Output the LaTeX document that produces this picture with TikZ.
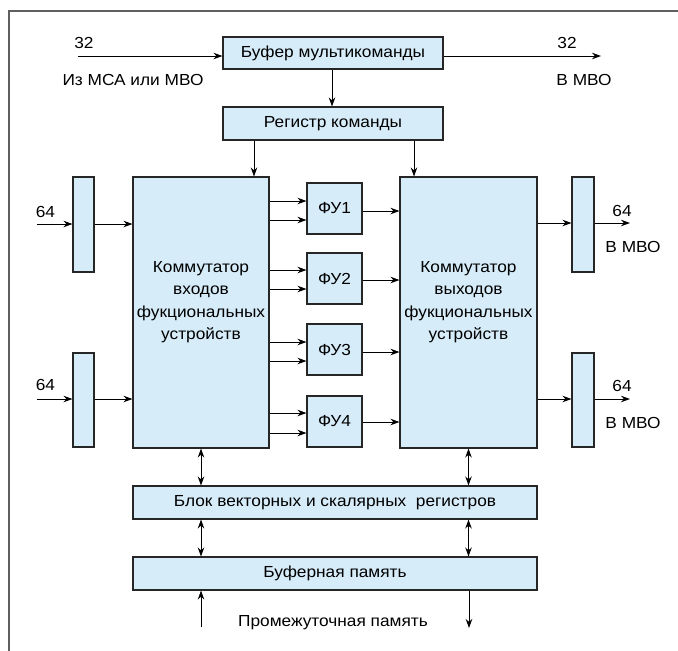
\documentclass[tikz,border=0pt]{standalone}
\usepackage{fontspec}
\setmainfont{Liberation Sans}[FakeStretch=1.08]
\usetikzlibrary{arrows.meta}
\definecolor{boxfill}{RGB}{214,236,249}
\definecolor{frameline}{RGB}{95,95,95}
\begin{document}
\begin{tikzpicture}[x=1pt,y=-1pt,
  blk/.style={draw=black!85,line width=1.1pt,fill=boxfill,inner sep=0pt,
    font=\fontsize{16}{22.5}\selectfont,align=center},
  txt/.style={inner sep=0pt,font=\fontsize{16}{22.5}\selectfont,align=center},
  con/.style={line width=0.9pt,-{Stealth[length=9pt,width=6.5pt]}},
  bicon/.style={line width=0.9pt,{Stealth[length=9pt,width=6.5pt]}-{Stealth[length=9pt,width=6.5pt]}},
  lbl/.style={font=\fontsize{16}{18}\selectfont,inner sep=0pt}]
\useasboundingbox (0,0) rectangle (678,651);
\draw[frameline,line width=1.4pt] (9,651) -- (9,11) -- (678,11);

% boxes
\node[blk,minimum width=220pt,minimum height=32pt] (buf) at (333,53) {Буфер мультикоманды};
\node[blk,minimum width=220pt,minimum height=33pt] (reg) at (333,123.5) {Регистр команды};
\node[blk,minimum width=136pt,minimum height=271pt] (kin) at (201,312.5) {};
\node[txt] (kinT) at (201,302) {Коммутатор\\входов\\фукциональных\\устройств};
\node[blk,minimum width=137pt,minimum height=271pt] (kout) at (468.5,312.5) {};
\node[txt] (koutT) at (468.5,302) {Коммутатор\\выходов\\фукциональных\\устройств};
\node[blk,minimum width=21pt,minimum height=95pt] (r1) at (83.5,224.5) {};
\node[blk,minimum width=21pt,minimum height=94pt] (r2) at (83.5,400) {};
\node[blk,minimum width=22pt,minimum height=95pt] (r3) at (583,224.5) {};
\node[blk,minimum width=22pt,minimum height=94pt] (r4) at (583,400) {};
\node[blk,minimum width=55pt,minimum height=51pt] (fu1) at (334.5,208.5) {ФУ1};
\node[blk,minimum width=55pt,minimum height=51pt] (fu2) at (334.5,278.5) {ФУ2};
\node[blk,minimum width=55pt,minimum height=51pt] (fu3) at (334.5,349.5) {ФУ3};
\node[blk,minimum width=55pt,minimum height=51pt] (fu4) at (334.5,421.5) {ФУ4};
\node[blk,minimum width=404pt,minimum height=33pt] (vr) at (335,502.5) {Блок векторных и скалярных \ регистров};
\node[blk,minimum width=404pt,minimum height=33pt] (bm) at (335,573.5) {Буферная память};

% free ends
\coordinate (inA) at (78,56);
\coordinate (outA) at (601,56);
\coordinate (in1) at (37,224);
\coordinate (in2) at (37,399);
\coordinate (out1) at (630,223);
\coordinate (out2) at (630,399);
\coordinate (memin) at (201,627);
\coordinate (memout) at (469,628);

% labels
\node[lbl] (l32a) at (84,43) {32};
\node[lbl] (lfrom) at (133,80) {Из МСА или МВО};
\node[lbl] (l32b) at (567,43) {32};
\node[lbl] (lto) at (584,80) {В МВО};
\node[lbl] (l64a) at (45.5,212) {64};
\node[lbl] (l64b) at (45.5,385) {64};
\node[lbl] (l64c) at (622,211) {64};
\node[lbl] (l64d) at (622,386) {64};
\node[lbl] (lto1) at (633,247) {В МВО};
\node[lbl] (lto2) at (633,423) {В МВО};
\node[lbl] (lmem) at (333,623) {Промежуточная память};

% connectors
\draw[con] (inA) -- (buf.west |- inA);
\draw[con] (buf.east |- outA) -- (outA);
\draw[con] (buf.south -| 332,0) -- (reg.north -| 332,0);
\draw[con] (reg.south -| 254,0) -- (kin.north -| 254,0);
\draw[con] (reg.south -| 414,0) -- (kout.north -| 414,0);

\draw[con] (in1) -- (r1.west |- in1);
\draw[con] (r1.east |- in1) -- (kin.west |- in1);
\draw[con] (in2) -- (r2.west |- in2);
\draw[con] (r2.east |- in2) -- (kin.west |- in2);

\foreach \f/\ya/\yb in {fu1/201/220,fu2/270/289,fu3/342/361,fu4/413/433}{
  \draw[con] (kin.east |- 0,\ya) -- (\f.west |- 0,\ya);
  \draw[con] (kin.east |- 0,\yb) -- (\f.west |- 0,\yb);
}
\foreach \f/\y in {fu1/211,fu2/280,fu3/352,fu4/422}{
  \draw[con] (\f.east |- 0,\y) -- (kout.west |- 0,\y);
}

\draw[con] (kout.east |- out1) -- (r3.west |- out1);
\draw[con] (r3.east |- out1) -- (out1);
\draw[con] (kout.east |- out2) -- (r4.west |- out2);
\draw[con] (r4.east |- out2) -- (out2);

\draw[bicon] (kin.south) -- (vr.north -| kin.south);
\draw[bicon] (kout.south) -- (vr.north -| kout.south);
\draw[bicon] (vr.south -| kin.south) -- (bm.north -| kin.south);
\draw[bicon] (vr.south -| kout.south) -- (bm.north -| kout.south);
\draw[con] (memin) -- (bm.south -| memin);
\draw[con] (bm.south -| memout) -- (memout);
\end{tikzpicture}
\end{document}
